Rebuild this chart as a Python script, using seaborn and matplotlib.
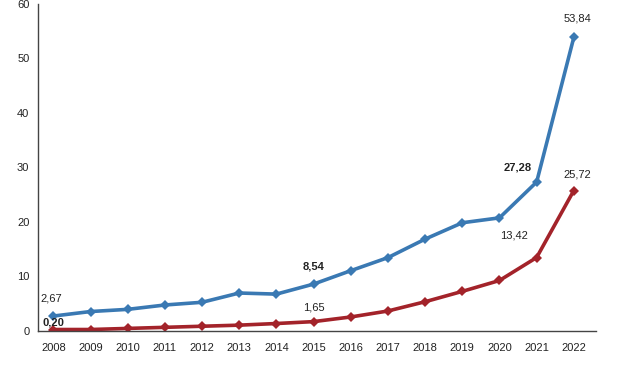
import seaborn as sns
import pandas as pd
import matplotlib.pyplot as plt

years = list(range(2008, 2023))
blue_values = [2.67, 3.5, 3.9, 4.7, 5.2, 6.9, 6.7, 8.54, 11.0, 13.4, 16.8, 19.8, 20.7, 27.28, 53.84]
red_values = [0.20, 0.2, 0.4, 0.6, 0.8, 1.0, 1.3, 1.65, 2.5, 3.6, 5.3, 7.2, 9.2, 13.42, 25.72]

# labelled points: (year, value, text, dx, dy, bold)
blue_labels = [(2008, 2.67, "2,67", -0.05, 3.2, False), (2015, 8.54, "8,54", 0.0, 3.2, True),
               (2021, 27.28, "27,28", -0.5, 2.6, True), (2022, 53.84, "53,84", 0.1, 3.5, False)]
red_labels = [(2008, 0.20, "0,20", 0.0, 1.3, True), (2015, 1.65, "1,65", 0.0, 2.6, False),
              (2021, 13.42, "13,42", -0.6, 4.0, False), (2022, 25.72, "25,72", 0.1, 3.0, False)]

df = pd.DataFrame({
    'year': years * 2,
    'value': blue_values + red_values,
    'series': ['blue'] * len(years) + ['red'] * len(years),
})

sns.set_style("white")
plt.rcParams['font.family'] = ['Liberation Sans', 'DejaVu Sans']

fig = plt.figure(figsize=(6.41, 3.80), dpi=100)
ax = fig.add_axes([0.06, 0.13, 0.87, 0.86])

sns.lineplot(data=df, x='year', y='value', hue='series',
             palette={'blue': '#3a79b3', 'red': '#a3232a'},
             marker='D', markersize=5, markeredgewidth=0, linewidth=2.6,
             legend=False, ax=ax)

for yr, v, t, dx, dy, b in blue_labels + red_labels:
    ax.text(yr + dx, v + dy, t, ha='center', va='center', fontsize=8,
            fontweight='bold' if b else 'normal', color='#222222')

ax.set_xlim(2007.6, 2022.6)
ax.set_ylim(0, 60)
ax.set_yticks(range(0, 61, 10))
ax.set_xticks(years)
ax.set_xlabel('')
ax.set_ylabel('')
ax.tick_params(axis='both', labelsize=8, colors='#222222', length=3, direction='out')
ax.tick_params(axis='x', pad=6)
sns.despine(ax=ax)
for s in ['left', 'bottom']:
    ax.spines[s].set_color('#444444')
    ax.spines[s].set_linewidth(1)

fig.savefig('out.png', dpi=100)
